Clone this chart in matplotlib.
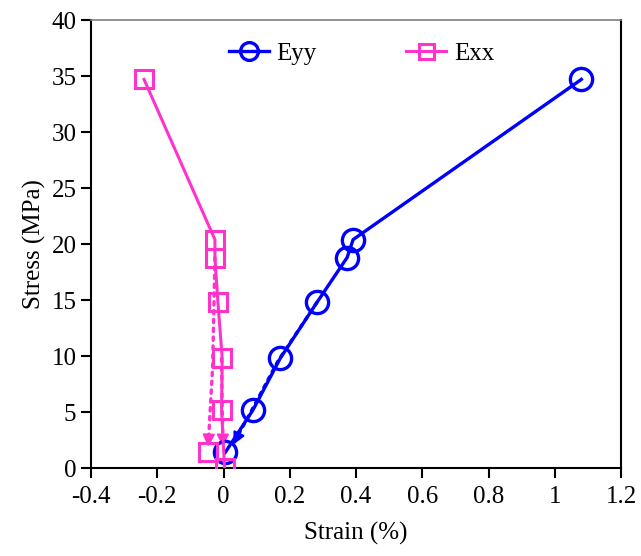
import matplotlib
matplotlib.use("Agg")
import matplotlib.pyplot as plt
from matplotlib.ticker import FuncFormatter

plt.rcParams["font.family"] = ["Liberation Serif", "DejaVu Serif"]

# loading curves
eyy_strain = [0.005, 0.089, 0.171, 0.282, 0.373, 0.391, 1.08]
eyy_stress = [1.4, 5.2, 9.8, 14.8, 18.8, 20.4, 34.7]
exx_strain = [0.003, -0.006, -0.004, -0.017, -0.026, -0.026, -0.24]
exx_stress = [0.0, 5.2, 9.8, 14.8, 18.8, 20.4, 34.7]
# end point of the first Exx unloading
exx_end_strain = [-0.047]
exx_end_stress = [1.4]

# unloading (dotted) paths
eyy_unl_strain = [0.282, 0.165, 0.082, 0.045]
eyy_unl_stress = [14.8, 9.6, 5.0, 3.0]
exx_unl1_strain = [-0.026, -0.033, -0.045]
exx_unl1_stress = [18.8, 9.0, 2.7]
exx_unl2_strain = [-0.006, -0.004, -0.002]
exx_unl2_stress = [9.8, 5.2, 2.7]

blue = "#0000FF"
pink = "#FF33CC"

fig = plt.figure(figsize=(6.41, 5.56), dpi=100)
ax = fig.add_axes([0.142, 0.158, 0.827, 0.806])


def dotted_arrow(xs, ys, c, tip):
    ax.plot(xs, ys, ":", color=c, lw=2.4, zorder=3, dash_capstyle="round")
    ax.annotate("", xy=tip, xytext=(xs[-1], ys[-1]),
                arrowprops=dict(arrowstyle="-|>", color=c, lw=1.5,
                                mutation_scale=18, shrinkA=0, shrinkB=0),
                zorder=3)


dotted_arrow(exx_unl1_strain, exx_unl1_stress, pink, (-0.046, 1.9))
dotted_arrow(exx_unl2_strain, exx_unl2_stress, pink, (-0.002, 1.9))
dotted_arrow(eyy_unl_strain, eyy_unl_stress, blue, (0.03, 2.1))

ax.plot(eyy_strain, eyy_stress, "-o", color=blue, lw=2.4, ms=16,
        mfc="none", mew=2.4, label="Eyy", zorder=4)
ax.plot(exx_strain, exx_stress, "-s", color=pink, lw=2.2, ms=13.5,
        mfc="none", mew=2.2, label="Exx", zorder=4)
ax.plot(exx_end_strain, exx_end_stress, "s", color=pink, ms=13.5,
        mfc="none", mew=2.2, zorder=4)

ax.set_xlim(-0.4, 1.2)
ax.set_ylim(0, 40)
ax.set_xticks([-0.4, -0.2, 0, 0.2, 0.4, 0.6, 0.8, 1.0, 1.2])
ax.set_yticks(range(0, 41, 5))
ax.xaxis.set_major_formatter(FuncFormatter(lambda v, p: "%g" % round(v, 2)))
ax.tick_params(direction="out", length=7, width=1.5, labelsize=18)
ax.tick_params(axis="x", pad=6)
ax.spines["top"].set_color("#808080")
for s in ax.spines.values():
    s.set_linewidth(1.5)
ax.spines["top"].set_linewidth(1.2)
ax.set_xlabel("Strain (%)", fontsize=18, labelpad=10)
ax.set_ylabel("Stress (MPa)", fontsize=18, labelpad=4)

ax.legend(loc="upper center", ncol=2, frameon=False, fontsize=18,
          bbox_to_anchor=(0.51, 1.0), handlelength=1.6, handletextpad=0.3,
          columnspacing=3.6, markerscale=0.8)

fig.savefig("out.png", dpi=100)
